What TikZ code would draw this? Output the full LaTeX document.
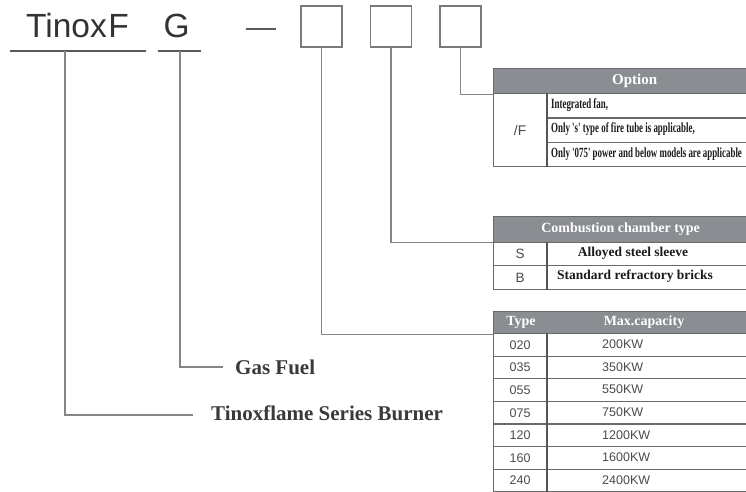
\documentclass[tikz,border=0pt]{standalone}
\usepackage{fontspec}
\usepackage{graphicx}
\setmainfont{Liberation Serif}
\newfontfamily\sansf{Liberation Sans}
\definecolor{hdrcol}{HTML}{8A8D92}
\definecolor{tbcol}{HTML}{6A6A6A}
\definecolor{sepcol}{HTML}{555555}
\definecolor{conncol}{HTML}{858585}
\definecolor{ulcol}{HTML}{5A5A5A}
\definecolor{sqcol}{HTML}{7A7A7A}
\definecolor{txtcol}{HTML}{1A1A1A}
\definecolor{numcol}{HTML}{4A4A4A}
\definecolor{bigcol}{HTML}{3A3A3A}
\definecolor{codecol}{HTML}{333333}
\begin{document}
\begin{tikzpicture}[x=1pt,y=-1pt,
  conn/.style={draw=conncol, line width=1.3pt},
  uline/.style={draw=ulcol, line width=1.6pt},
  sq/.style={draw=sqcol, line width=1.1pt, minimum size=41pt, inner sep=0pt},
  hdr/.style={fill=hdrcol, draw=tbcol, line width=1.2pt, anchor=north west, inner sep=0pt, text=white, font=\bfseries\fontsize{14}{16}\selectfont},
  hdrtext/.style={text=white, inner sep=0pt, font=\bfseries\fontsize{14}{16}\selectfont},
  cell/.style={draw=tbcol, line width=1.2pt, anchor=north west, inner sep=0pt},
  colsep/.style={draw=sepcol, line width=2pt},
  num/.style={font=\sansf\fontsize{12.5}{14}\selectfont, text=numcol},
  boldtxt/.style={inner sep=0pt, font=\bfseries\fontsize{13.5}{15}\selectfont, text=txtcol},
  opttxt/.style={inner sep=0pt, anchor=west, font=\bfseries\fontsize{14}{16}\selectfont, text=txtcol},
  bigtxt/.style={inner sep=0pt, anchor=base west, font=\bfseries\fontsize{21}{24}\selectfont, text=bigcol},
  codetxt/.style={inner sep=0pt, anchor=base west, font=\sansf\fontsize{33.5}{36}\selectfont, text=codecol}
]
\useasboundingbox (0,0) rectangle (746,491);
\clip (0,0) rectangle (746,491);

% code line
\node[codetxt] (tinoxF) at (26,37) {Tinox\hspace{1.5pt}F};
\node[codetxt] (gG) at (163.5,37) {G};
\coordinate (ulA1) at (10,51);
\coordinate (ulA2) at (146,51);
\coordinate (ulB1) at (158,51);
\coordinate (ulB2) at (201,51);
\draw[uline] (ulA1) -- (ulA2);
\draw[uline] (ulB1) -- (ulB2);
\coordinate (dash1) at (246,29);
\coordinate (dash2) at (276,29);
\draw[uline] (dash1) -- (dash2);
\node[sq] (b1) at (321.5,26.5) {};
\node[sq] (b2) at (391,26.5) {};
\node[sq] (b3) at (460.5,26.5) {};

% left labels
\node[bigtxt] (gas) at (235,374.5) {Gas Fuel};
\node[bigtxt] (series) at (211,420) {Tinoxflame Series Burner};
\coordinate (vA) at (65,51);
\coordinate (vB) at (180,51);
\coordinate (endA) at (193,415);
\coordinate (endB) at (223,367);
\draw[conn] (vA) |- (endA);
\draw[conn] (vB) |- (endB);

% Option table
\node[hdr, minimum width=282pt, minimum height=25pt, font=\bfseries\fontsize{15}{17}\selectfont] (optH) at (493,68) {Option};
\node[cell, minimum width=53pt, minimum height=73pt, num, font=\sansf\fontsize{14}{16}\selectfont] (optF) at (493,93) {/F};
\node[cell, minimum width=229pt, minimum height=24.33pt] (optR1) at (546,93) {};
\node[cell, minimum width=229pt, minimum height=24.33pt] (optR2) at (546,117.33) {};
\node[cell, minimum width=229pt, minimum height=24.33pt] (optR3) at (546,141.67) {};
\draw[colsep] (optF.north east) -- (optF.south east);
\node[opttxt] (optT1) at (551,105) {\scalebox{0.635}[1]{Integrated fan,}};
\node[opttxt] (optT2) at (551,129.5) {\scalebox{0.635}[1]{Only \textquotesingle s\textquotesingle\ type of fire tube is applicable,}};
\node[opttxt] (optT3) at (551,154) {\scalebox{0.635}[1]{Only \textquotesingle 075\textquotesingle\ power and below models are applicable}};

% Combustion chamber table
\node[hdr, minimum width=254pt, minimum height=26pt] (ccH) at (493,215.5) {Combustion chamber type};
\node[cell, minimum width=53pt, minimum height=23.5pt, num, font=\sansf\fontsize{13.5}{15}\selectfont] (ccS) at (493,241.5) {S};
\node[cell, minimum width=210pt, minimum height=23.5pt] (ccS2) at (546,241.5) {};
\node[cell, minimum width=53pt, minimum height=24pt, num, font=\sansf\fontsize{13.5}{15}\selectfont] (ccB) at (493,265) {B};
\node[cell, minimum width=210pt, minimum height=24pt] (ccB2) at (546,265) {};
\draw[colsep] (ccS.north east) -- (ccB.south east);
\node[boldtxt] (ccT1) at (633,253.5) {Alloyed steel sleeve};
\node[boldtxt] (ccT2) at (635,276) {Standard refractory bricks};

% Type table
\node[hdr, minimum width=260pt, minimum height=22pt] (tyH) at (493,311) {};
\node[hdrtext] (tyHa) at (521,322) {Type};
\node[hdrtext] (tyHb) at (644,322) {Max.capacity};
\foreach \t/\c [count=\i from 0] in {020/200KW,035/350KW,055/550KW,075/750KW,120/1200KW,160/1600KW,240/2400KW}{
  \node[cell, minimum width=53pt, minimum height=22.6pt, num] (tya\i) at (493,{333+22.6*\i}) {\t};
  \node[cell, minimum width=210pt, minimum height=22.6pt] (tyb\i) at (546,{333+22.6*\i}) {};
  \node[num, anchor=west, inner sep=0pt] (tyc\i) at (602,{344.3+22.6*\i}) {\c};
  \draw[colsep] (tya\i.north east) -- (tya\i.south east);
}

% connectors from boxes
\draw[conn] (b1.south) |- (tyH.south west);
\draw[conn] (b2.south) |- (ccH.south west);
\draw[conn] (b3.south) |- (optH.south west);
\end{tikzpicture}
\end{document}
